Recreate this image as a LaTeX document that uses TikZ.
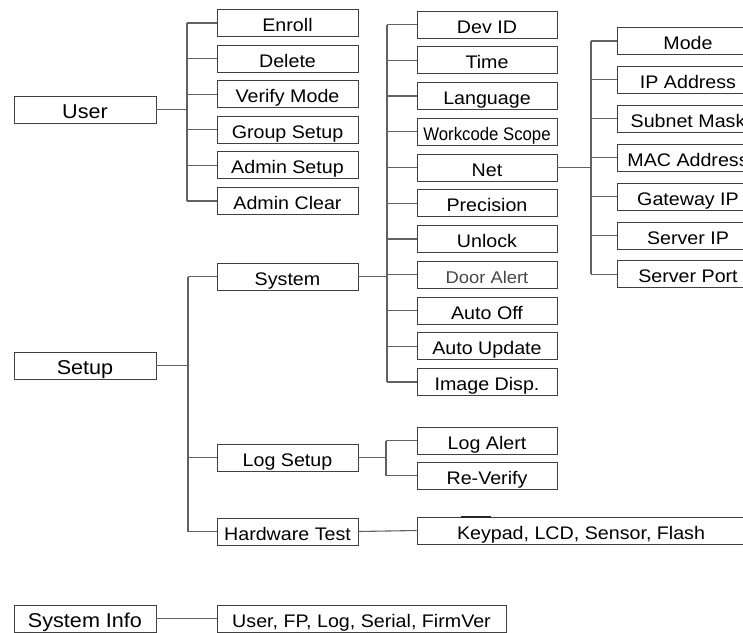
\documentclass[tikz,border=0pt]{standalone}
\usepackage{fontspec}
\setmainfont{Liberation Sans}[FakeStretch=1.08]
\newfontfamily\narrowfont{Liberation Sans}[FakeStretch=0.92]
\begin{document}
\begin{tikzpicture}[x=1pt,y=-1pt,
  box/.style={draw=black!75, line width=0.9pt, minimum height=27pt, inner sep=0pt,
    font=\fontsize{18.2}{20}\selectfont, text height=17pt, text depth=0pt, anchor=center},
  top/.style={box, minimum width=142pt, font=\fontsize{20}{22}\selectfont},
  l2/.style={box, minimum width=141pt},
  l3/.style={box, minimum width=140pt},
  l4/.style={box, minimum width=142pt},
  wire/.style={draw=black!62, line width=1.1pt}]
\useasboundingbox (0,0) rectangle (743,632);
\clip (0,0) rectangle (743,632);

% level 1
\node[top] (user)  at (85,109.5) {User};
\node[top] (setup) at (85,365.5) {Setup};
\node[top] (sinfo) at (85,618.5) {System Info};

% level 2
\node[l2] (enroll)   at (287.5,23)    {Enroll};
\node[l2] (delete)   at (287.5,58.6)  {Delete};
\node[l2] (verify)   at (287.5,94.2)  {Verify Mode};
\node[l2] (group)    at (287.5,129.8) {Group Setup};
\node[l2] (adset)    at (287.5,165.4) {Admin Setup};
\node[l2] (adclr)    at (287.5,201)   {Admin Clear};
\node[l2] (system)   at (287.5,276.5) {System};
\node[l2] (logsetup) at (287.5,457.5) {Log Setup};
\node[l2] (hwtest)   at (287.5,531.5) {Hardware Test};
\node[box, minimum width=289pt] (info) at (361.5,618.5) {User, FP, Log, Serial, FirmVer};

% level 3 (system)
\node[l3] (devid)   at (487,24.5)   {Dev ID};
\node[l3] (time)    at (487,60.25)  {Time};
\node[l3] (lang)    at (487,96)     {Language};
\node[l3, font=\fontsize{18.2}{20}\narrowfont] (wcs) at (487,131.75) {Workcode Scope};
\node[l3] (net)     at (487,167.5)  {Net};
\node[l3] (prec)    at (487,203.25) {Precision};
\node[l3] (unlock)  at (487,239)    {Unlock};
\node[l3, font=\fontsize{17}{19}\selectfont, text=black!72] (door) at (487,274.75) {Door Alert};
\node[l3] (autooff) at (487,310.5)  {Auto Off};
\node[l3] (autoupd) at (487,346.25) {Auto Update};
\node[l3] (imgdisp) at (487,382)    {Image Disp.};

% level 3 (log, hardware)
\node[l3] (logalert) at (487,440.5) {Log Alert};
\node[l3] (reverify) at (487,475.5) {Re-Verify};
\node[box, minimum width=328pt] (keypad) at (581,530.5) {Keypad, LCD, Sensor, Flash};

% level 4 (net)
\node[l4] (mode)   at (688,41)    {Mode};
\node[l4] (ip)     at (688,79.9)  {IP Address};
\node[l4] (subnet) at (688,118.8) {Subnet Mask};
\node[l4] (mac)    at (688,157.7) {MAC Address};
\node[l4] (gw)     at (688,196.6) {Gateway IP};
\node[l4] (sip)    at (688,235.5) {Server IP};
\node[l4] (sport)  at (688,274.4) {Server Port};

% buses
\coordinate (ubus)   at (187,0);
\coordinate (sbus)   at (188,0);
\coordinate (sysbus) at (387,0);
\coordinate (lbus)   at (386,0);
\coordinate (nbus)   at (591,0);

% user tree
\draw[wire] (user.east) -- (user.east -| ubus);
\draw[wire] (enroll.west -| ubus) -- (adclr.west -| ubus);
\foreach \n in {enroll,delete,verify,group,adset,adclr}
  \draw[wire] (\n.west -| ubus) -- (\n.west);

% setup tree
\draw[wire] (setup.east) -- (setup.east -| sbus);
\draw[wire] (system.west -| sbus) -- (hwtest.west -| sbus);
\foreach \n in {system,logsetup,hwtest}
  \draw[wire] (\n.west -| sbus) -- (\n.west);

% system tree
\draw[wire] (system.east) -- (system.east -| sysbus);
\draw[wire] (devid.west -| sysbus) -- (imgdisp.west -| sysbus);
\foreach \n in {devid,time,lang,wcs,net,prec,unlock,door,autooff,autoupd,imgdisp}
  \draw[wire] (\n.west -| sysbus) -- (\n.west);

% net tree
\draw[wire] (net.east) -- (net.east -| nbus);
\draw[wire] (mode.west -| nbus) -- (sport.west -| nbus);
\foreach \n in {mode,ip,subnet,mac,gw,sip,sport}
  \draw[wire] (\n.west -| nbus) -- (\n.west);

% log tree
\draw[wire] (logsetup.east) -- (logsetup.east -| lbus);
\draw[wire] (logalert.west -| lbus) -- (reverify.west -| lbus);
\foreach \n in {logalert,reverify}
  \draw[wire] (\n.west -| lbus) -- (\n.west);

% hardware test and system info
\draw[wire] (hwtest.east) -- (keypad.west);
\draw[wire] (sinfo.east) -- (info.west);

% small thick mark on the keypad box
\draw[line width=2pt, black!85] ([xshift=44pt]keypad.north west) -- ([xshift=74pt]keypad.north west);
\end{tikzpicture}
\end{document}
